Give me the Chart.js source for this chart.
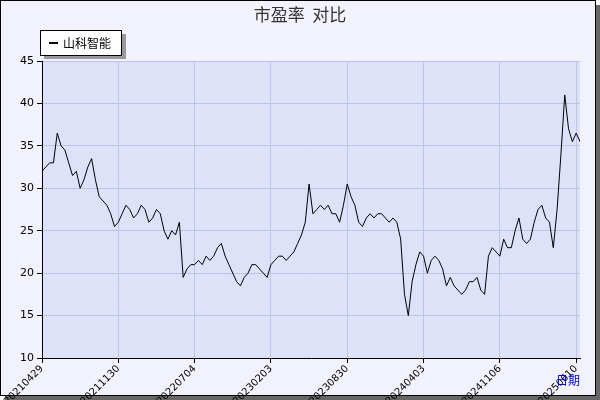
<!DOCTYPE html>
<html>
<head>
<meta charset="utf-8">
<script src="https://cdn.jsdelivr.net/npm/chart.js@4"></script>
<style>
  html, body { margin: 0; padding: 0; background: #fff; }
  #wrap { width: 600px; height: 400px; }
</style>
</head>
<body>
<div id="wrap"><canvas id="peChart" width="600" height="400"></canvas></div>
<script>
const seriesName = "山科智能";
const tickLabels = ["20210429","20211130","20220704","20230203","20230830","20240403","20241106","20250610"];
const peValues = [
  32,32.5,33,33,36.5,35,34.5,33,31.5,32,30,31,32.5,33.5,31,29,28.5,28,27,25.5,
  26,27,28,27.5,26.5,27,28,27.5,26,26.5,27.5,27,25,24,25,24.5,26,19.5,20.5,21,
  21,21.5,21,22,21.5,22,23,23.5,22,21,20,19,18.5,19.5,20,21,21,20.5,20,19.5,
  21,21.5,22,22,21.5,22,22.5,23.5,24.5,26,30.5,27,27.5,28,27.5,28,27,27,26,28,
  30.5,29,28,26,25.5,26.5,27,26.5,27,27,26.5,26,26.5,26,24,17.5,15,19,21,22.5,
  22,20,21.5,22,21.5,20.5,18.5,19.5,18.5,18,17.5,18,19,19,19.5,18,17.5,22,23,22.5,
  22,24,23,23,25,26.5,24,23.5,24,26,27.5,28,26.5,26,23,27.5,34,41,37,35.5,
  36.5,35.5
];
const labelStep = 20;
const categories = peValues.map((_, i) =>
  i % labelStep === 0 ? tickLabels[i / labelStep] : "");

const framePlugin = {
  id: "frame",
  beforeDraw(chart) {
    const { ctx, chartArea: a } = chart;
    ctx.save();
    ctx.fillStyle = "#666";
    ctx.fillRect(5, 5, 595, 395);
    ctx.fillStyle = "#f1f2fb";
    ctx.fillRect(0, 0, 596, 396);
    ctx.strokeStyle = "#000";
    ctx.lineWidth = 1;
    ctx.strokeRect(0.5, 0.5, 595, 395);
    ctx.fillStyle = "#dde2f8";
    ctx.fillRect(a.left, a.top, a.right - a.left, a.bottom - a.top);
    ctx.restore();
  },
  afterDraw(chart) {
    const { ctx } = chart;
    ctx.save();
    ctx.fillStyle = "#333";
    ctx.font = "17px 'Noto Sans CJK SC'";
    ctx.textAlign = "center";
    ctx.textBaseline = "middle";
    ctx.fillText("市盈率  对比", 300, 15);
    // legend box
    ctx.fillStyle = "#999";
    ctx.fillRect(44, 34, 82, 25);
    ctx.fillStyle = "#fff";
    ctx.fillRect(40, 30, 82, 26);
    ctx.strokeStyle = "#000";
    ctx.strokeRect(40.5, 30.5, 81, 25);
    ctx.fillRect(0, 0, 0, 0);
    ctx.fillStyle = "#000";
    ctx.fillRect(49, 42, 9, 2);
    ctx.font = "12px 'Noto Sans CJK SC'";
    ctx.textAlign = "left";
    ctx.fillText(seriesName, 63, 43);
    ctx.fillStyle = "#0000ee";
    ctx.fillText("日期", 556, 380);
    ctx.restore();
  }
};

new Chart(document.getElementById("peChart"), {
  type: "line",
  data: {
    labels: categories,
    datasets: [{
      label: seriesName,
      data: peValues,
      borderColor: "#000",
      borderWidth: 1,
      pointRadius: 0,
      tension: 0,
      fill: false,
    }],
  },
  options: {
    responsive: false,
    animation: false,
    events: [],
    layout: { padding: { left: 10, right: 20, top: 61, bottom: 0 } },
    plugins: { legend: { display: false }, tooltip: { enabled: false } },
    scales: {
      x: {
        offset: false,
        afterFit: (s) => { s.height = 42; },
        border: { color: "#000" },
        grid: {
          color: (c) => (c.index % labelStep === 0 && c.index > 0 ? "#b9c4e6" : "rgba(0,0,0,0)"),
          tickColor: (c) => (c.index % labelStep === 0 ? "#000" : "rgba(0,0,0,0)"),
          tickLength: 5,
        },
        ticks: {
          autoSkip: false,
          maxRotation: 45,
          minRotation: 45,
          color: "#000",
          font: { family: "DejaVu Sans", size: 10 },
          padding: 0,
        },
      },
      y: {
        min: 10,
        max: 45,
        afterFit: (s) => { s.width = 32; },
        border: { color: "#000" },
        grid: { color: "#b9c4e6", tickColor: "#000", tickLength: 5 },
        ticks: {
          stepSize: 5,
          color: "#000",
          font: { family: "DejaVu Sans", size: 11 },
        },
      },
    },
  },
  plugins: [framePlugin],
});
</script>
</body>
</html>
